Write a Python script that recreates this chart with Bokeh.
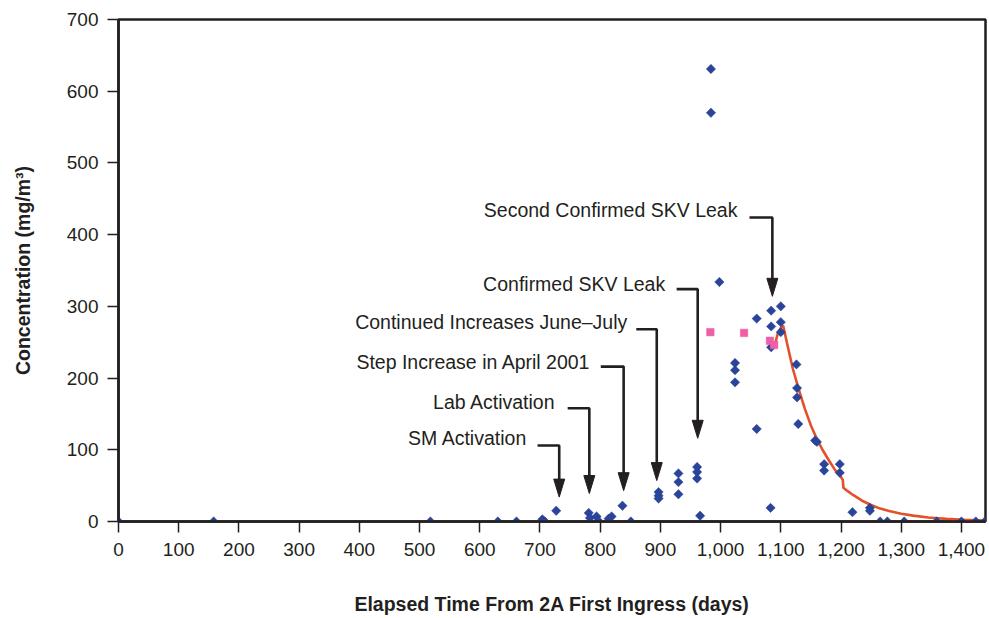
import numpy as np
from bokeh.plotting import figure
from bokeh.models import Range1d, NumeralTickFormatter, FixedTicker
from bokeh.embed import file_html
from bokeh.resources import INLINE
from bokeh.core.properties import value

# ---- data ----
obs_days = [0, 158, 518, 630, 661, 704, 708, 727, 781, 783, 794, 797, 814, 819, 837, 851,
            897, 897, 897, 930, 930, 930, 961, 961, 961, 966, 984, 984, 998,
            1024, 1024, 1024, 1060, 1060, 1084, 1084, 1084, 1083, 1100, 1100, 1100,
            1126, 1127, 1127, 1129, 1157, 1160, 1172, 1172, 1198, 1198, 1219, 1248, 1248,
            1265, 1277, 1305, 1359, 1400, 1424, 1439]
obs_conc = [0, 0, 0, 0, 0, 3, 0, 15, 12, 5, 7, 1, 4, 7, 22, 0,
            41, 36, 32, 67, 55, 38, 76, 69, 60, 8, 631, 570, 334,
            221, 211, 194, 283, 129, 294, 272, 243, 19, 300, 278, 264,
            219, 186, 173, 136, 113, 111, 80, 71, 80, 68, 13, 19, 15,
            0, 0, 0, 0, 0, 0, 0]

extra_days = [983, 1039, 1082, 1089]
extra_conc = [264, 263, 252, 246]

fit_days = [1090, 1095, 1100, 1104, 1110, 1120, 1130, 1140, 1150, 1160, 1170, 1180, 1190,
            1200, 1203, 1204, 1210, 1220, 1235, 1250, 1265, 1280, 1300, 1320, 1345, 1375,
            1405, 1440]
fit_conc = [246, 262, 270, 273, 250, 213, 184, 157, 134, 115, 99, 85, 72,
            62, 58, 47, 43, 37, 29, 23, 18, 14.5, 10.8, 8.2, 5.6, 3.6,
            2.2, 1.3]

x_ticks = list(range(0, 1401, 100))
y_ticks = list(range(0, 701, 100))

events = ["SM Activation", "Lab Activation", "Step Increase in April 2001",
          "Continued Increases June\u2013July", "Confirmed SKV Leak",
          "Second Confirmed SKV Leak"]
event_days = [732, 782, 839, 894, 962, 1086]

# annotation placement (data units)
text_right = [679, 726, 784, 845, 908, 1028]
text_y = [116, 167, 223, 278, 331, 434]
line_start = [696, 746, 801, 860, 927, 1048]
elbow_y = [106, 158, 216, 268, 324, 424]
tip_y = [34, 39, 43, 57, 116, 314]

INK = "#231f20"
BLUE = "#2a4499"
PINK = "#ee5fa7"
ORANGE = "#e4502a"
FONT = "Liberation Sans"

W, H = 989, 618
ML, MR, MT, MB = 118, 4, 19, 97
X0, X1, Y0, Y1 = 0, 1440, 0, 700

p = figure(width=W, height=H, x_range=Range1d(X0, X1), y_range=Range1d(Y0, Y1),
           output_backend="svg", toolbar_location=None,
           min_border_left=ML, min_border_right=MR, min_border_top=MT, min_border_bottom=MB)

p.grid.visible = False
p.outline_line_color = INK
p.outline_line_width = 2.5
p.background_fill_color = "white"
p.border_fill_color = "white"

for ax in (p.xaxis[0], p.yaxis[0]):
    ax.axis_line_color = INK
    ax.axis_line_width = 2.5
    ax.major_tick_line_color = INK
    ax.major_tick_line_width = 1.5
    ax.major_tick_out = 11
    ax.major_tick_in = 0
    ax.minor_tick_out = 0
    ax.minor_tick_in = 0
    ax.major_label_text_font = FONT
    ax.major_label_text_font_size = "19px"
    ax.major_label_text_color = INK
    ax.axis_label_text_font = FONT
    ax.axis_label_text_font_size = "19.5px"
    ax.axis_label_text_font_style = "bold"
    ax.axis_label_text_color = INK

p.xaxis.ticker = FixedTicker(ticks=x_ticks)
p.xaxis.formatter = NumeralTickFormatter(format="0,0")
p.xaxis.major_label_standoff = 10
p.xaxis.axis_label = "Elapsed Time From 2A First Ingress (days)"
p.xaxis.axis_label_standoff = 34
p.yaxis.ticker = FixedTicker(ticks=y_ticks)
p.yaxis.major_label_standoff = 9
p.yaxis.axis_label = "Concentration (mg/m\u00b3)"
p.yaxis.axis_label_standoff = 30

# scale factors (pixels per data unit) for the arrow heads
fw = W - ML - MR
fh = H - MT - MB
sx = fw / (X1 - X0)
sy = fh / (Y1 - Y0)
hw = 5.5 / sx
hl = 18 / sy

xs, ys, hx, hy = [], [], [], []
for ls, ax_, ey, ty in zip(line_start, event_days, elbow_y, tip_y):
    xs.append([ls, ax_, ax_])
    ys.append([ey, ey, ty + hl * 0.8])
    hx.append([ax_ - hw, ax_ + hw, ax_])
    hy.append([ty + hl, ty + hl, ty])

p.multi_line(xs, ys, line_color=INK, line_width=2.6)
p.patches(hx, hy, fill_color=INK, line_color=INK, line_width=1)
p.text(x=text_right, y=text_y, text=events, text_align="right", text_baseline="middle",
       text_font=value(FONT), text_font_size="19.5px", text_color=INK)

p.line(fit_days, fit_conc, line_color=ORANGE, line_width=2.6)
p.scatter(obs_days, obs_conc, marker="square", angle=np.pi / 4, size=6.6,
          fill_color=BLUE, line_color=BLUE, line_width=0.5)
p.scatter(extra_days, extra_conc, marker="square", size=7.5,
          fill_color=PINK, line_color=PINK, line_width=0.5)

open("out.html", "w").write(file_html(p, INLINE))
